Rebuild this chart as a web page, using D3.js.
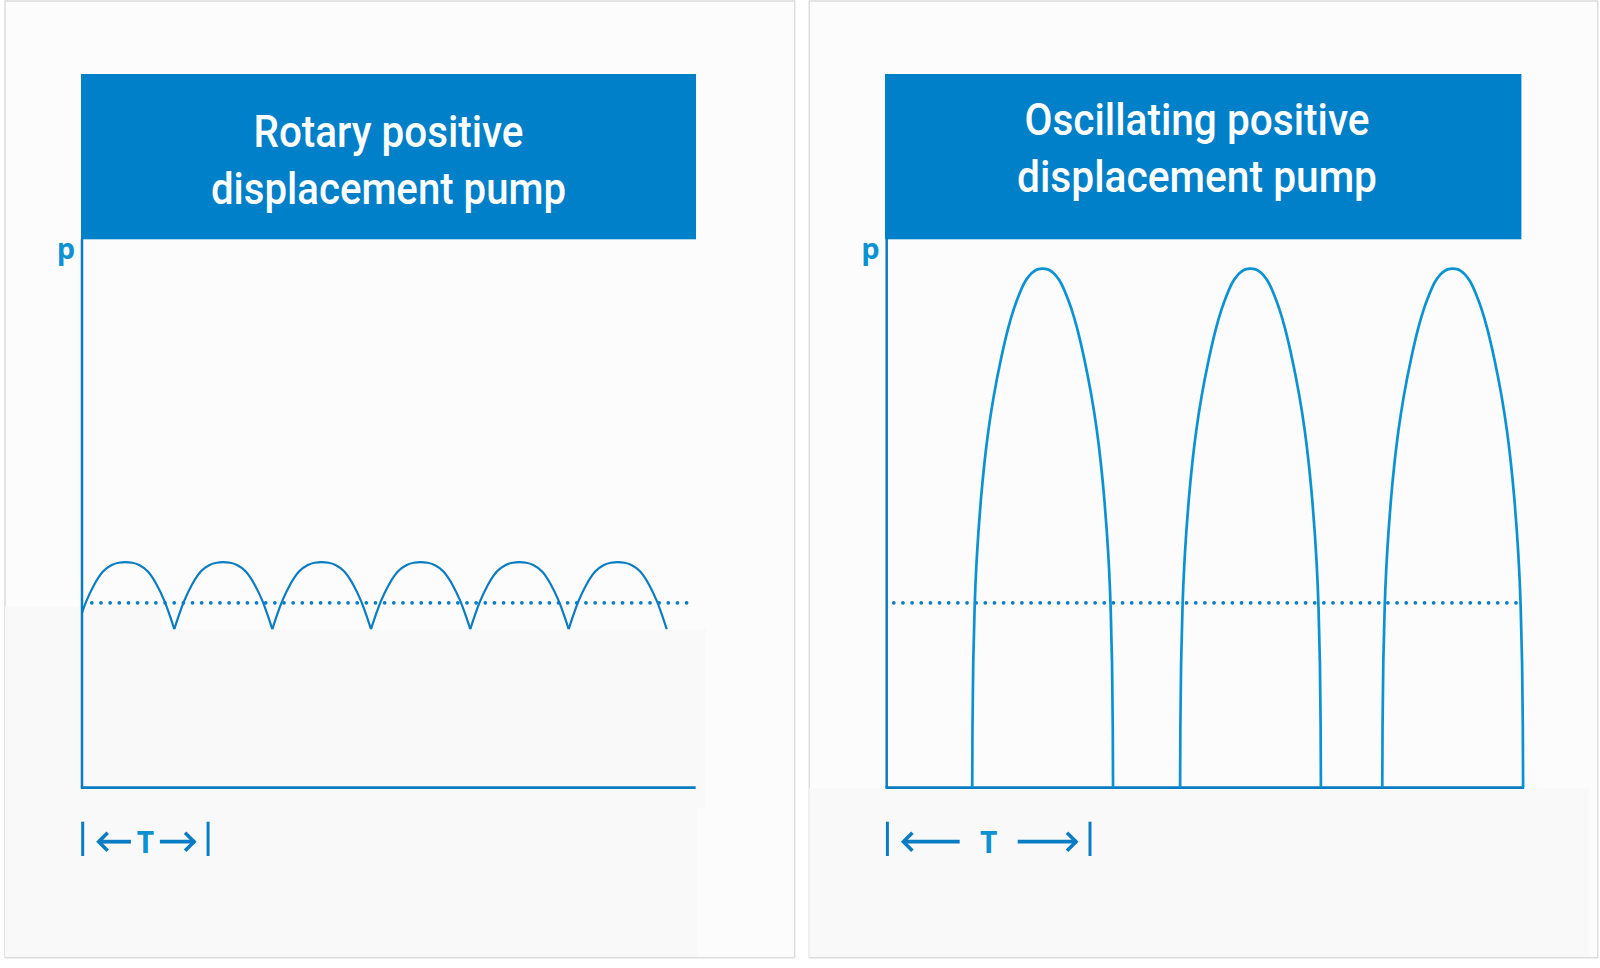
<!DOCTYPE html>
<html>
<head>
<meta charset="utf-8">
<script src="https://cdn.jsdelivr.net/npm/d3@7"></script>
<style>
  body { margin: 0; background: #ffffff; }
  svg { display: block; }
</style>
</head>
<body>
<svg id="chart"></svg>
<script>
// ---- data ----
// time axis in periods, pressure p in % of axis height
var rotaryTitle = ["Rotary positive", "displacement pump"];
var oscTitle = ["Oscillating positive", "displacement pump"];

// cusps (troughs) of the rotary pump curve, one hump between each pair
var rotaryTroughs = [-0.055, 0.937, 1.932, 2.934, 3.942, 4.941, 5.936];
// shape of one rotary hump: [fraction of the hump span, p]
var rotaryShape = [[0, 28.9], [0.05, 31.6], [0.1, 34.0], [0.18, 37.0], [0.27, 39.4], [0.36, 40.6],
                   [0.43, 41.0], [0.5, 41.1], [0.57, 41.0], [0.64, 40.6], [0.73, 39.4], [0.82, 37.0],
                   [0.9, 34.0], [0.95, 31.6], [1, 28.9]];
var rotaryMean = 33.7;
var rotaryEnd = 6.23;
var rotaryT = [0, 1.28];

// centres of the oscillating pump strokes
var oscCentres = [0.767, 1.7895, 2.784];
// shape of one stroke: [half width in periods, p], from the foot up to the top
var oscShape = [[0.3463, 0], [0.3453, 11], [0.3424, 22.2], [0.3345, 33.6], [0.3271, 40],
                [0.3158, 46.9], [0.3030, 53], [0.2868, 59.2], [0.2681, 65], [0.2410, 71.5],
                [0.2066, 78], [0.1697, 83.9], [0.1407, 87.5], [0.1146, 90], [0.0999, 91.3],
                [0.0826, 92.5], [0.0630, 93.5], [0.0443, 94.1], [0.0271, 94.5], [0, 94.66]];
var oscMean = 33.7;
var oscEnd = 3.135;
var oscT = [0, 1];

// ---- layout ----
var screen = {width: 1600, height: 968};
var blue = "#0080c9";
var line = "#0a7cc4";
var light = "#0b92d3";

var svg = d3.select("#chart")
    .attr("width", screen.width)
    .attr("height", screen.height);

var yScale = d3.scaleLinear().domain([0, 100]).range([787.7, 239]);

var panels = [
    {x0: 5, x1: 794.7, box: [81, 696], titleX: 388.5, titleY: [146.7, 203.7], titleW: [270, 355],
     axisX: 82, pxPerT: 98.5, end: rotaryEnd, mean: rotaryMean, meanFrom: 0.1, meanTo: 6.17,
     tm: rotaryT, gap: 14.5, title: rotaryTitle, kind: "rotary",
     shades: [[5, 606.7, 161.7, 788], [161.7, 629.5, 706, 808.3], [5, 788, 697.7, 957]]},
    {x0: 809.3, x1: 1597.7, box: [885, 1521.4], titleX: 1197, titleY: [135, 191.7], titleW: [345, 360],
     axisX: 886.7, pxPerT: 203.3, end: oscEnd, mean: oscMean, meanFrom: 0.035, meanTo: 3.1,
     tm: oscT, gap: 29, title: oscTitle, kind: "osc",
     shades: [[809.3, 788, 1589, 957]]}
];

var drawPanel = function(pn, i)
{
    var g = svg.append("g");

    g.append("rect")
        .attr("x", pn.x0).attr("y", 1)
        .attr("width", pn.x1 - pn.x0).attr("height", 956.7)
        .attr("fill", "#fcfcfc")
        .attr("stroke", "#dcdcdc")
        .attr("stroke-width", 1.5);

    // faint grey patches of the original picture
    pn.shades.forEach(function(s)
    {
        g.append("rect")
            .attr("x", s[0]).attr("y", s[1])
            .attr("width", s[2] - s[0]).attr("height", s[3] - s[1])
            .attr("fill", "#f9f9f9");
    });

    var xScale = d3.scaleLinear()
        .domain([0, 1])
        .range([pn.axisX, pn.axisX + pn.pxPerT]);

    // title box
    g.append("rect")
        .attr("x", pn.box[0]).attr("y", 74)
        .attr("width", pn.box[1] - pn.box[0]).attr("height", 165.3)
        .attr("fill", blue);

    pn.title.forEach(function(t, j)
    {
        g.append("text")
            .text(t)
            .attr("x", pn.titleX)
            .attr("y", pn.titleY[j])
            .attr("text-anchor", "middle")
            .attr("fill", "#ffffff")
            .attr("font-family", "Roboto, 'Liberation Sans', sans-serif")
            .attr("font-weight", 500)
            .attr("font-size", 44)
            .attr("textLength", pn.titleW[j])
            .attr("lengthAdjust", "spacingAndGlyphs");
    });

    // axes
    g.append("line")
        .attr("x1", xScale(0)).attr("x2", xScale(0))
        .attr("y1", yScale(100)).attr("y2", yScale(0))
        .attr("stroke", line).attr("stroke-width", 2.5);
    g.append("line")
        .attr("x1", xScale(0) - 1.2).attr("x2", xScale(pn.end))
        .attr("y1", yScale(0)).attr("y2", yScale(0))
        .attr("stroke", line).attr("stroke-width", 2.8);

    g.append("text")
        .text("p")
        .attr("x", xScale(0) - 7)
        .attr("y", 259)
        .attr("text-anchor", "end")
        .attr("fill", light)
        .attr("font-family", "'Open Sans', 'Liberation Sans', sans-serif")
        .attr("font-weight", "bold")
        .attr("font-size", 29);

    // mean pressure, dotted
    g.append("line")
        .attr("x1", xScale(pn.meanFrom)).attr("x2", xScale(pn.meanTo))
        .attr("y1", yScale(pn.mean)).attr("y2", yScale(pn.mean))
        .attr("stroke", line)
        .attr("stroke-width", 3.8)
        .attr("stroke-linecap", "round")
        .attr("stroke-dasharray", "0 9.15");

    var lineGenerator = d3.line()
        .x(function(d) { return xScale(d[0]); })
        .y(function(d) { return yScale(d[1]); });

    var humps = [];
    if (pn.kind == "rotary")
    {
        lineGenerator.curve(d3.curveMonotoneX);
        for (var k = 0; k < rotaryTroughs.length - 1; k++)
        {
            var a = rotaryTroughs[k], b = rotaryTroughs[k + 1];
            humps.push(rotaryShape.map(function(s) { return [a + s[0] * (b - a), s[1]]; }));
        }
        var clipId = "clip" + i;
        svg.append("defs").append("clipPath").attr("id", clipId)
            .append("rect")
            .attr("x", xScale(0)).attr("y", 0)
            .attr("width", xScale(pn.end) - xScale(0)).attr("height", screen.height);
        g.append("g")
            .attr("clip-path", "url(#" + clipId + ")")
            .selectAll("path")
            .data(humps)
            .enter()
            .append("path")
            .attr("d", lineGenerator)
            .attr("fill", "none")
            .attr("stroke", line)
            .attr("stroke-width", 2.2);
    }
    else
    {
        lineGenerator.curve(d3.curveBasis);
        oscCentres.forEach(function(c)
        {
            var up = oscShape.map(function(s) { return [c - s[0], s[1]]; });
            var down = oscShape.slice(0, -1).reverse().map(function(s) { return [c + s[0], s[1]]; });
            humps.push(up.concat(down));
        });
        g.selectAll("path.stroke")
            .data(humps)
            .enter()
            .append("path")
            .classed("stroke", true)
            .attr("d", lineGenerator)
            .attr("fill", "none")
            .attr("stroke", light)
            .attr("stroke-width", 2.7);
    }

    // period marker |<- T ->|
    var bx0 = xScale(pn.tm[0]) + 0.7, bx1 = xScale(pn.tm[1]);
    var mid = (bx0 + bx1) / 2;
    var ay = 841.7;
    var marker = g.append("g")
        .attr("stroke", line)
        .attr("fill", "none")
        .attr("stroke-linecap", "butt");
    [bx0, bx1].forEach(function(bx)
    {
        marker.append("line")
            .attr("x1", bx).attr("x2", bx)
            .attr("y1", 821.7).attr("y2", 856)
            .attr("stroke-width", 3);
    });
    var arrows = [[bx0 + 16, mid - pn.gap], [bx1 - 14, mid + pn.gap]];
    arrows.forEach(function(ar)
    {
        var dir = ar[0] < ar[1] ? 1 : -1; // tip is ar[0]
        marker.append("line")
            .attr("x1", ar[0] + 1).attr("x2", ar[1])
            .attr("y1", ay).attr("y2", ay)
            .attr("stroke-width", 3.8);
        marker.append("path")
            .attr("d", "M" + (ar[0] + dir * 9) + "," + (ay - 9) +
                       "L" + ar[0] + "," + ay +
                       "L" + (ar[0] + dir * 9) + "," + (ay + 9))
            .attr("stroke-width", 3.6)
            .attr("stroke-linejoin", "miter");
    });
    g.append("text")
        .text("T")
        .attr("x", mid)
        .attr("y", 852.7)
        .attr("text-anchor", "middle")
        .attr("fill", light)
        .attr("font-family", "'Open Sans', 'Liberation Sans', sans-serif")
        .attr("font-weight", "bold")
        .attr("font-size", 30);
};

panels.forEach(drawPanel);
</script>
</body>
</html>
